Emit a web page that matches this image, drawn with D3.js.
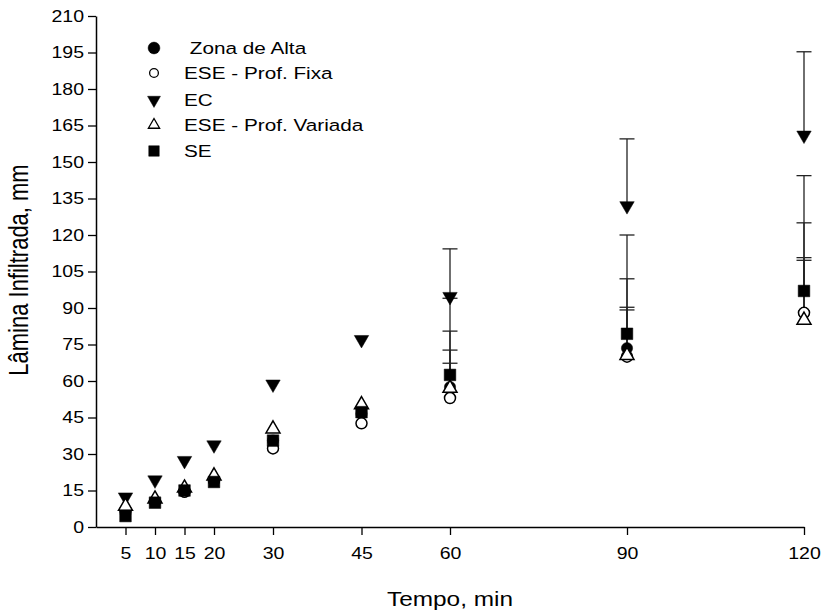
<!DOCTYPE html>
<html>
<head>
<meta charset="utf-8">
<script src="https://cdn.jsdelivr.net/npm/d3@7"></script>
<style>
  body { margin: 0; background: #fff; }
  text { font-family: "Liberation Sans", Arial, sans-serif; fill: #000; }
</style>
</head>
<body>
<script>
// tempo (min)
const times = [5, 10, 15, 20, 30, 45, 60, 90, 120];
const yTicks = [0, 15, 30, 45, 60, 75, 90, 105, 120, 135, 150, 165, 180, 195, 210];

// lâmina infiltrada (mm), por tratamento
const zonaAlta = [6, 10.5, 14.5, 19.5, 35.5, 46.5, 57.5, 73.5, 88];
const eseFixa = [7, 10.5, 14.5, 19, 32.3, 42.6, 53, 70, 88];
const ec = [12.3, 19.3, 27.3, 33.7, 58.7, 77, 94.7, 132, 161];
const eseVariada = [8.5, 11.5, 16, 21, 40.3, 50.3, 57, 70.5, 85];
const se = [4.5, 10, 15, 18.5, 35.5, 47.2, 62.5, 79.4, 97];

// limite superior das barras de erro (só nos três últimos tempos)
const zonaAltaUp = [null, null, null, null, null, null, 80.5, 102, 125];
const eseFixaUp = [null, null, null, null, null, null, 67.3, 89.2, 109.6];
const ecUp = [null, null, null, null, null, null, 114.3, 159.5, 195.3];
const eseVariadaUp = [null, null, null, null, null, null, 72.7, 90.3, 110.7];
const seUp = [null, null, null, null, null, null, 94, 120, 144.4];

const seriesNames = [" Zona de Alta", "ESE - Prof. Fixa", "EC", "ESE - Prof. Variada", "SE"];

const width = 822;
const height = 613;
const sx = 1.22; // o texto do original é um pouco esticado na horizontal

const svg = d3.select("body").append("svg").attr("width", width).attr("height", height);

const x = d3.scaleLinear().domain([0, 120]).range([96, 804]);
const y = d3.scaleLinear().domain([0, 210]).range([527, 16]);

const series = [
  { name: seriesNames[0], values: zonaAlta, up: zonaAltaUp, shape: d3.symbolCircle, size: 100, fill: "#000", lsize: 110, lfill: "#000" },
  { name: seriesNames[1], values: eseFixa, up: eseFixaUp, shape: d3.symbolCircle, size: 95, fill: "#fff", lsize: 60, lfill: "#fff" },
  { name: seriesNames[2], values: ec, up: ecUp, shape: d3.symbolTriangle, size: 90, fill: "#000", rot: 180, lsize: 72, lfill: "#000" },
  { name: seriesNames[3], values: eseVariada, up: eseVariadaUp, shape: d3.symbolTriangle, size: 85, fill: "#fff", lsize: 55, lfill: "#fff" },
  { name: seriesNames[4], values: se, up: seUp, shape: d3.symbolSquare, size: 135, fill: "#000", lsize: 110, lfill: "#000" },
];

// eixos
const axisX = d3.axisBottom(x).tickValues(times).tickSize(8).tickSizeOuter(0).tickPadding(13);
const axisY = d3.axisLeft(y).tickValues(yTicks).tickSize(8).tickSizeOuter(0).tickPadding(4);

const gx = svg.append("g").attr("transform", "translate(0," + y(0) + ")").call(axisX);
const gy = svg.append("g").attr("transform", "translate(" + x(0) + ",0)").call(axisY);
[gx, gy].forEach(g => {
  g.select(".domain").attr("stroke", "#000").attr("stroke-width", 1.5);
  g.selectAll(".tick line").attr("stroke", "#000").attr("stroke-width", 1.3);
  g.selectAll(".tick text").style("font-size", "16px").style("font-family", "Liberation Sans, Arial, sans-serif");
});
gx.selectAll(".tick text").attr("transform", "scale(" + sx + ",1)")
  .attr("x", 0);
gy.selectAll(".tick text").attr("transform", "scale(" + sx + ",1)")
  .attr("x", -12 / sx);

// barras de erro
series.forEach(s => {
  const pts = times.map((t, i) => ({ t: t, v: s.values[i], u: s.up[i] })).filter(d => d.u != null);
  const g = svg.append("g").attr("stroke", "#222").attr("stroke-width", 1.3);
  g.selectAll("line.bar").data(pts).join("line")
    .attr("x1", d => x(d.t)).attr("x2", d => x(d.t))
    .attr("y1", d => y(d.v)).attr("y2", d => y(d.u));
  g.selectAll("line.cap").data(pts).join("line")
    .attr("x1", d => x(d.t) - 7.5).attr("x2", d => x(d.t) + 7.5)
    .attr("y1", d => y(d.u)).attr("y2", d => y(d.u));
});

// pontos
series.forEach(s => {
  const sym = d3.symbol().type(s.shape).size(s.size);
  svg.append("g").selectAll("path").data(times.map((t, i) => ({ t: t, v: s.values[i] }))).join("path")
    .attr("d", sym)
    .attr("transform", d => "translate(" + x(d.t) + "," + y(d.v) + ")" + (s.rot ? " rotate(" + s.rot + ")" : ""))
    .attr("fill", s.fill)
    .attr("stroke", "#000")
    .attr("stroke-width", s.fill === "#fff" ? 1.5 : 0.5);
});

// legenda
const legend = svg.append("g");
const legendY = [48, 73, 100, 125, 151];
series.forEach((s, i) => {
  const sym = d3.symbol().type(s.shape).size(s.lsize);
  legend.append("path")
    .attr("d", sym)
    .attr("transform", "translate(154," + legendY[i] + ")" + (s.rot ? " rotate(" + s.rot + ")" : ""))
    .attr("fill", s.lfill)
    .attr("stroke", "#000")
    .attr("stroke-width", s.lfill === "#fff" ? 1.3 : 0.5);
  legend.append("text")
    .attr("transform", "translate(184," + legendY[i] + ") scale(" + sx + ",1)")
    .attr("dy", "0.35em")
    .style("font-size", "17px")
    .style("white-space", "pre")
    .attr("xml:space", "preserve")
    .text(s.name);
});

// títulos dos eixos
svg.append("text")
  .attr("transform", "translate(450,606) scale(" + sx + ",1)")
  .attr("text-anchor", "middle")
  .style("font-size", "20px")
  .text("Tempo, min");

svg.append("text")
  .attr("transform", "translate(28,270) rotate(-90) scale(1," + sx + ")")
  .attr("text-anchor", "middle")
  .style("font-size", "22px")
  .text("Lâmina Infiltrada, mm");
</script>
</body>
</html>
